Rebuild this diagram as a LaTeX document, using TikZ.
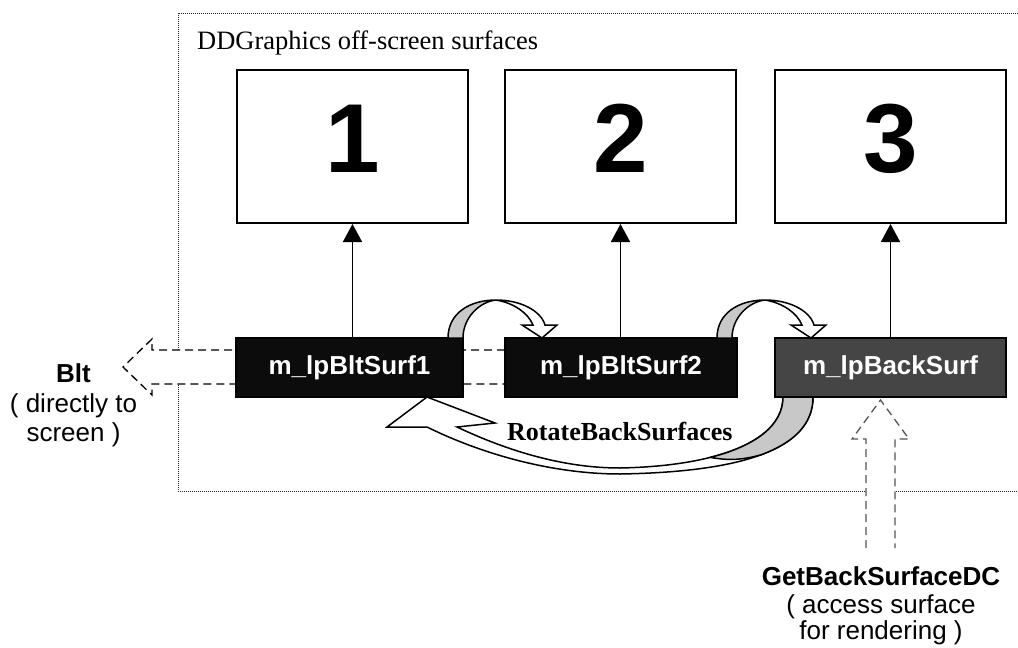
\documentclass[tikz,border=0pt]{standalone}
\usepackage{fontspec}
\setmainfont{Liberation Serif}
\newfontfamily\arialfont{Liberation Sans}
\usetikzlibrary{arrows.meta}
\definecolor{bandgray}{HTML}{C8C8C8}
\definecolor{backgray}{HTML}{454545}
\definecolor{boxblack}{HTML}{0C0C0C}
\definecolor{dashgray}{HTML}{555555}

\tikzset{
  surface/.style={draw, line width=2pt, fill=white, minimum width=231pt,
    minimum height=153pt, inner sep=0pt},
  pointer/.style={draw=black, line width=1.2pt, fill=boxblack, minimum height=59pt,
    inner sep=0pt, text=white, font=\arialfont\bfseries\fontsize{26}{28}\selectfont},
  bignum/.style={anchor=base, inner sep=0pt, font=\arialfont\bfseries\fontsize{98}{100}\selectfont},
  caption/.style={anchor=base, inner sep=0pt, font=\arialfont\fontsize{26}{28}\selectfont},
  captionbold/.style={caption, font=\arialfont\bfseries\fontsize{26}{28}\selectfont},
  link/.style={line width=1.8pt, -{Triangle[width=19pt,length=18pt]}},
  hollowdash/.style={line width=1.3pt, dash pattern=on 8pt off 5pt, fill=white},
  band/.style={line width=1.5pt, draw=black},
  hoparrow/.pic={
    % twisted back face of the left leg
    \draw[band, fill=bandgray] (0,0) .. controls (0,-25) and (22,-38) .. (48,-38)
      .. controls (31,-36) and (15,-20) .. (15,0) -- cycle;
    % front face with the arrow head
    \draw[band, fill=white] (48,-38) .. controls (73,-38) and (93,-27) .. (97,-13)
      -- (109,-13) -- (94,0) -- (74,-13) -- (85,-13)
      .. controls (80,-25) and (66,-35) .. (48,-38) -- cycle;
  }
}

\begin{document}
\begin{tikzpicture}[x=1pt,y=-1pt]
\useasboundingbox (0,0) rectangle (1018,648);

% off-screen area
\draw[line width=0.9pt, black!85, dash pattern=on 0.9pt off 1.1pt] (178,13) rectangle (1030,491);
\node[anchor=base west, inner sep=0pt, font=\fontsize{26.5}{28}\selectfont] (title) at (197,49)
  {DDGraphics off-screen surfaces};

% the three surfaces
\node[surface] (f1) at (352.5,146.5) {};
\node[surface] (f2) at (620.5,146.5) {};
\node[surface] (f3) at (890.5,146.5) {};
\node[bignum] (n1) at (352.5,172) {1};
\node[bignum] (n2) at (620.5,172) {2};
\node[bignum] (n3) at (890.5,172) {3};

% Blt: hollow dashed arrow towards the screen
\coordinate (blttip) at (123,367);
\draw[hollowdash, draw=black] (505,350) -- (152,350) -- (152,339) -- (blttip)
  -- (152,395) -- (152,384) -- (505,384);

% GetBackSurfaceDC: hollow dashed arrow into the back surface
\coordinate (dctip) at (880.5,400);
\draw[hollowdash, draw=dashgray] (866,548) -- (866,439) -- (852,439) -- (dctip)
  -- (909,439) -- (895,439) -- (895,548);

% surface pointers
\node[pointer, minimum width=227pt] (s1) at (349.5,367.5) {m\_lpBltSurf1};
\node[pointer, minimum width=232pt] (s2) at (621,367.5) {m\_lpBltSurf2};
\node[pointer, minimum width=231pt, fill=backgray] (s3) at (890.5,367.5) {m\_lpBackSurf};

\draw[link] (f1.south |- s1.north) -- (f1.south);
\draw[link] (f2.south |- s2.north) -- (f2.south);
\draw[link] (f3.south |- s3.north) -- (f3.south);

% rotation hops between neighbouring pointers
\pic (hopA) at (448,338) {hoparrow};
\pic (hopB) at (717,338) {hoparrow};

% long return arrow from the back surface to the first pointer
\draw[band, fill=white] (427,397) -- (495,423) -- (457,427)
  .. controls (510,452) and (565,468) .. (620,468)
  .. controls (720,466) and (783,440) .. (783,397) -- (813,397)
  .. controls (813,450) and (740,472) .. (620,474)
  .. controls (560,474) and (490,458) .. (427,427) -- (387,427) -- cycle;
\draw[band, fill=bandgray] (710.3,457.4) .. controls (756.4,445.7) and (783,425) .. (783,397)
  -- (813,397) .. controls (813,423.5) and (794.75,442.25) .. (761.5,454.6)
  .. controls (740,461) and (725,460) .. (710.3,457.4) -- cycle;
\node[anchor=base west, inner sep=0pt, font=\bfseries\fontsize{26}{28}\selectfont] (rot)
  at (507,440) {RotateBackSurfaces};

% captions outside the area
\node[captionbold] (blt1) at (73.5,382) {Blt};
\node[caption] (blt2) at (73.5,412) {( directly to};
\node[caption] (blt3) at (73.5,441) {screen )};

\node[captionbold] (dc1) at (881,585) {GetBackSurfaceDC};
\node[caption] (dc2) at (881,613) {( access surface};
\node[caption] (dc3) at (881,639) {for rendering )};
\end{tikzpicture}
\end{document}
